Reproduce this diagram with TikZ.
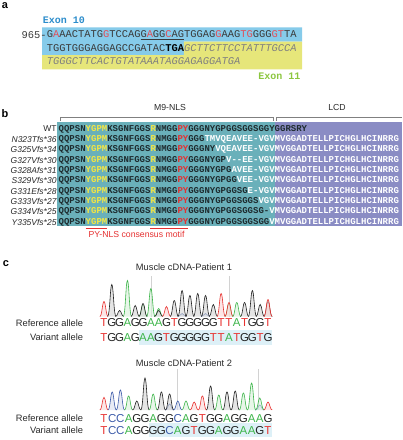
\documentclass[tikz,border=0pt]{standalone}
\usepackage{fontspec}
\setmainfont{Liberation Sans}
\newfontfamily\seqfont{Liberation Mono}
\usetikzlibrary{positioning}

\begin{document}
\begin{tikzpicture}[x=1pt,y=-1pt,
    panel/.style={font=\bfseries\fontsize{11}{12}\selectfont, inner sep=0pt},
    seqa/.style={font=\seqfont\fontsize{10.4}{12}\selectfont, text=textGrey, inner sep=0pt, anchor=west},
    exon/.style={font=\seqfont\bfseries\fontsize{10}{12}\selectfont, inner sep=0pt},
    seqb/.style={font=\seqfont\bfseries\fontsize{9}{10}\selectfont, text=darkRes, inner sep=0pt, anchor=west},
    rowlab/.style={font=\itshape\fontsize{8.5}{10}\selectfont, text=labGrey, inner sep=0pt},
    small/.style={font=\fontsize{8.7}{10}\selectfont, inner sep=0pt},
    base/.style={font=\fontsize{11.5}{12}\selectfont, inner sep=0pt},
    title/.style={font=\fontsize{9.3}{11}\selectfont, text=labGrey, inner sep=0pt},
    allele/.style={font=\fontsize{9.3}{11}\selectfont, text=labGrey, inner sep=0pt, anchor=east}]
    % Define colours
    \definecolor{textGrey}{HTML}{3A3A3A}
    \definecolor{labGrey}{HTML}{2A2A2A}
    \definecolor{exonBlue}{HTML}{2B8CCB}
    \definecolor{boxBlue}{HTML}{86CBEA}
    \definecolor{exonGreen}{HTML}{8CC63F}
    \definecolor{boxYellow}{HTML}{E6E67A}
    \definecolor{mutRed}{HTML}{E0505A}
    \definecolor{tealBox}{HTML}{6AB0BA}
    \definecolor{lcdBox}{HTML}{8A8CC4}
    \definecolor{darkRes}{HTML}{1E2B2E}
    \definecolor{motifYellow}{HTML}{F5E642}
    \definecolor{pyRed}{HTML}{E53030}
    \definecolor{cT}{HTML}{E8312F}
    \definecolor{cG}{HTML}{222222}
    \definecolor{cA}{HTML}{3DB54A}
    \definecolor{cC}{HTML}{3C5BA9}
    \definecolor{hiBlue}{HTML}{DDF0F7}

    % Define page
    \useasboundingbox (0,0) rectangle (403,440);
    \def\nlsMotif{QQPSN\textcolor{motifYellow}{YGPM}KSGNFGGS\textcolor{motifYellow}{R}NMGG\textcolor{pyRed}{PY}}
    \def\rd#1{\textcolor{mutRed}{#1}}

  % Panel a: exon 10 / exon 11 junction
  \node[panel] (la) at (5,6) {a};
  \fill[boxBlue] (42,27.3) rectangle (302,41.7) (42,41.7) rectangle (183.8,55);
  \fill[boxYellow] (183.8,41.7) rectangle (302,55) (42,55) rectangle (302,69.3);
  \node[exon, text=exonBlue, anchor=west] (ex10) at (42.7,20) {Exon 10};
  \node[seqa] (l1) at (46.7,35) {G\rd{A}AACTATG\rd{G}TCCAG\underline{G\rd{A}GG\rd{C}AG}TGGAG\rd{G}AAG\rd{TG}GGG\rd{GT}TA};
  \node[seqa, anchor=east] (num) at (l1.west) {965-};
  \node[seqa] (l2) at (46.7,48.3) {TGGTGGGAGGAGCCGATAC\textcolor{black}{\textbf{TGA}}\textcolor{gray}{\textit{GCTTCTTCCTATTTGCCA}}};
  \node[seqa, text=gray] (l3) at (46.7,61.5) {\textit{TGGGCTTCACTGTATAAATAGGAGAGGATGA}};
  \node[exon, text=exonGreen, anchor=east] (ex11) at (300.5,76) {Exon 11};

  % Panel b: frameshift alignment
  \node[panel] (lb) at (5,114) {b};
  \fill[tealBox] (57.3,121.5) rectangle (274.5,225.5);
  \fill[lcdBox] (274.5,121.5) rectangle (402,225.5);
  \draw[gray] (60,120.5) -- (60,117.5) -- (273,117.5) -- (273,120.5);
  \draw[gray] (276,120.5) -- (276,117.5) -- (402,117.5);
  \node[small, text=labGrey] (m9) at (170,108) {M9-NLS};
  \node[small, text=labGrey] (lcd) at (337,108) {LCD};

  \node[seqb] (r0) at (58.5,129) {\nlsMotif GGGNYGPGGSGGSGGYGGRSRY};
  \node[rowlab, font=\fontsize{8.5}{10}\selectfont, left=1.8pt of r0] (lab0) {WT};
  \foreach \lab/\keep/\fs [count=\i] in {
      N323Tfs*36/GGG/TMVQEAVEE-VGV,
      G325Vfs*34/GGGNY/VQEAVEE-VGV,
      G327Vfs*30/GGGNYGP/V-\kern0pt-EE-VGV,
      G328Afs*31/GGGNYGPG/AVEE-VGV,
      S329Vfs*30/GGGNYGPGG/VEE-VGV,
      G331Efs*28/GGGNYGPGGSG/E-VGV,
      G333Vfs*27/GGGNYGPGGSGGS/VGV,
      G334Vfs*25/GGGNYGPGGSGGSG-/V,
      Y335Vfs*25/GGGNYGPGGSGGSGG/V}
  {
    \node[seqb] (r\i) at (58.5,129+10.33*\i) {\nlsMotif\keep\textcolor{white}{\fs MVGGADTELLPICHGLHCINRRG}};
    \node[rowlab, left=1.8pt of r\i] (lab\i) {\lab};
  }
  \draw[pyRed] (85.5,227.8) -- (107.1,227.8);
  \draw[pyRed] (150.3,227.8) -- (188.1,227.8);
  \node[small, text=pyRed] (py) at (136.5,234.8) {PY-NLS consensus motif};

  % Panel c: chromatograms
  \node[panel] (lc) at (6,263.5) {c};

  % Patient 1
  \def\baseA{316.5}
  \def\stepA{7.81}
  \node[title] (t1) at (184,267.3) {Muscle cDNA-Patient 1};
  \draw[gray!35] (150.7,276) -- (150.7,\baseA);
  \draw[gray!35] (228.7,276) -- (228.7,\baseA);
  \foreach \i/\h/\col in {1/15/cT, 2/32/cG, 3/6/cG, 4/36/cA, 5/11/cG, 6/12/cA, 6/13/cG,
      7/28/cA, 8/8/cA, 8/6/cG, 9/10/cT, 10/16/cG, 11/3/cC, 11/26/cG, 12/21/cG, 13/23/cG,
      14/3/cC, 14/21/cG, 15/12/cG, 16/23/cT, 17/13/cA, 17/14/cT, 18/14/cA, 19/14/cG,
      20/26/cG, 21/12/cG, 22/15/cG, 22/17/cT}
  {
    \pgfmathsetmacro\px{104+\stepA*(\i-1)}
    \draw[draw=\col, fill=\col!20, fill opacity=0.6, line width=0.6pt]
      (\px-4.2,\baseA) .. controls (\px-2,\baseA) and (\px-1.6,\baseA-\h) .. (\px,\baseA-\h)
      .. controls (\px+1.6,\baseA-\h) and (\px+2,\baseA) .. (\px+4.2,\baseA);
  }
  \fill[hiBlue] (139.1,330) rectangle (272,344.5);
  \node[allele] (ref1) at (83.3,322.7) {Reference allele};
  \node[allele] (var1) at (83.3,337.3) {Variant allele};
  \foreach \b [count=\i] in {T,G,G,A,G,G,A,A,G,T,G,G,G,G,G,T,T,A,T,G,G,T}
    \node[base, text=c\b] (ra\i) at (104+\stepA*\i-\stepA,322.7) {\b};
  \foreach \b [count=\i] in {T,G,G,A,G,A,A,G,T,G,G,G,G,G,T,T,A,T,G,G,T,G}
    \node[base, text=c\b] (va\i) at (104+\stepA*\i-\stepA,337.3) {\b};

  % Patient 2
  \def\baseB{410}
  \def\stepB{8.2}
  \node[title] (t2) at (184,363.3) {Muscle cDNA-Patient 2};
  \draw[gray!35] (176.7,369) -- (176.7,\baseB);
  \draw[gray!35] (258,369) -- (258,\baseB);
  \foreach \i/\h/\col in {1/12.7/cT, 2/18/cC, 3/20/cC, 4/14/cA, 5/9/cG, 6/32/cG, 7/16/cA,
      8/18/cG, 9/6/cC, 9/16/cG, 10/9/cC, 11/9/cA, 12/8/cT, 13/14/cT, 14/24/cG, 15/15/cA,
      16/18/cG, 17/19/cG, 18/17/cA, 19/27/cA, 20/5/cC, 20/12/cA, 21/8/cT}
  {
    \pgfmathsetmacro\px{104+\stepB*(\i-1)}
    \draw[draw=\col, fill=\col!20, fill opacity=0.6, line width=0.6pt]
      (\px-4.2,\baseB) .. controls (\px-2,\baseB) and (\px-1.6,\baseB-\h) .. (\px,\baseB-\h)
      .. controls (\px+1.6,\baseB-\h) and (\px+2,\baseB) .. (\px+4.2,\baseB);
  }
  \fill[hiBlue] (149.1,423.3) rectangle (272,436.7);
  \node[allele] (ref2) at (83.3,418.3) {Reference allele};
  \node[allele] (var2) at (83.3,430.5) {Variant allele};
  \foreach \b [count=\i] in {T,C,C,A,G,G,A,G,G,C,A,G,T,G,G,A,G,G,A,A,G}
    \node[base, text=c\b] (rb\i) at (104+\stepB*\i-\stepB,418.3) {\b};
  \foreach \b [count=\i] in {T,C,C,A,G,G,G,G,C,A,G,T,G,G,A,G,G,A,A,G,T}
    \node[base, text=c\b] (vb\i) at (104+\stepB*\i-\stepB,430.5) {\b};

\end{tikzpicture}
\end{document}
